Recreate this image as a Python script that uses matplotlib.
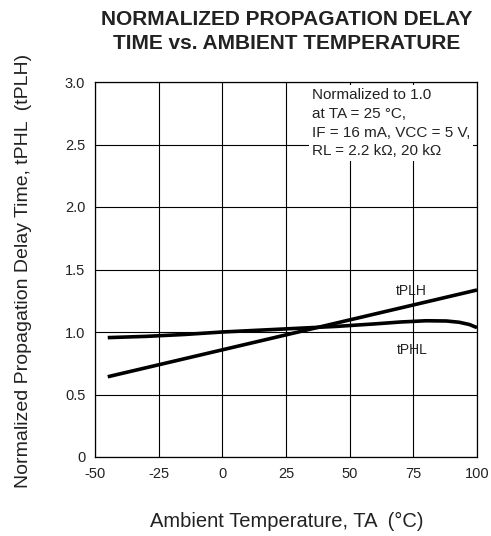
import matplotlib
matplotlib.use("Agg")
import matplotlib.pyplot as plt

plt.rcParams['font.family'] = ['Liberation Sans', 'DejaVu Sans']
plt.rcParams['axes.unicode_minus'] = False

# values
temp_plh = [-45, 100]
plh = [0.642, 1.336]

temp_phl = [-45, -30, -15, 0, 15, 30, 45, 60, 70, 80, 88, 93, 97, 100]
phl = [0.955, 0.965, 0.98, 1.0, 1.015, 1.03, 1.045, 1.065, 1.08, 1.09, 1.088, 1.078, 1.06, 1.035]

x_ticks = [-50, -25, 0, 25, 50, 75, 100]
y_ticks = [0, 0.5, 1.0, 1.5, 2.0, 2.5, 3.0]
y_labels = ['0', '0.5', '1.0', '1.5', '2.0', '2.5', '3.0']

fig = plt.figure(figsize=(4.91, 5.36), dpi=100)
ax = fig.add_axes([95 / 491, 1 - 457 / 536, 382 / 491, 375 / 536])

ax.plot(temp_plh, plh, color='black', lw=2.6, solid_capstyle='butt', zorder=3)
ax.plot(temp_phl, phl, color='black', lw=2.6, solid_capstyle='butt', zorder=3)

ax.set_xlim(-50, 100)
ax.set_ylim(0, 3.0)
ax.set_xticks(x_ticks)
ax.set_yticks(y_ticks)
ax.set_yticklabels(y_labels)
ax.grid(True, color='black', lw=0.8)
ax.tick_params(length=0, labelsize=10.5, pad=7, colors='#222222')
for s in ax.spines.values():
    s.set_linewidth(0.9)

ax.text(74, 1.27, 'tPLH', fontsize=10, ha='center', va='bottom', color='#222222', zorder=4)
ax.text(74.5, 0.915, 'tPHL', fontsize=10, ha='center', va='top', color='#222222', zorder=4)

# white box hides the grid behind it, spines stay on top
ax.text(0.568, 0.985,
        'Normalized to 1.0\nat TA = 25 \u00b0C,\nIF = 16 mA, VCC = 5 V,\nRL = 2.2 k\u03a9, 20 k\u03a9',
        transform=ax.transAxes, fontsize=11, ha='left', va='top', linespacing=1.45,
        color='#222222',
        bbox=dict(facecolor='white', edgecolor='none', pad=2), zorder=2)

fig.text(287 / 491, 1 - 521 / 536, 'Ambient Temperature, TA  (\u00b0C)',
         fontsize=14.5, ha='center', va='center', color='#222222')
fig.text(24 / 491, 1 - 271 / 536, 'Normalized Propagation Delay Time, tPHL  (tPLH)',
         fontsize=14, ha='center', va='center', rotation=90, color='#222222')

fig.text(287 / 491, 1 - 10 / 536, 'NORMALIZED PROPAGATION DELAY\nTIME vs. AMBIENT TEMPERATURE',
         fontsize=15, fontweight='bold', ha='center', va='top', linespacing=1.35,
         color='#222222')

fig.savefig('out.png', dpi=100)
